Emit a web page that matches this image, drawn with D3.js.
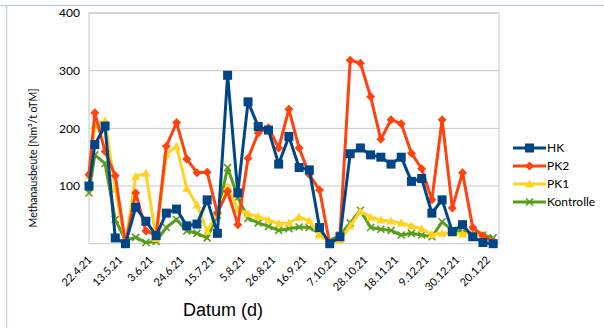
<!DOCTYPE html>
<html>
<head>
<meta charset="utf-8">
<script src="https://cdn.jsdelivr.net/npm/d3@7"></script>
<style>
  html, body { margin: 0; padding: 0; background: #fff; }
  svg { display: block; }
</style>
</head>
<body>
<svg id="chart" width="604" height="328"></svg>
<script>
// Sampling dates (first reading, then weekly)
const dates = [
  "2021-04-22", "2021-04-26", "2021-05-03", "2021-05-10", "2021-05-17", "2021-05-24",
  "2021-05-31", "2021-06-07", "2021-06-14", "2021-06-21", "2021-06-28", "2021-07-05",
  "2021-07-12", "2021-07-19", "2021-07-26", "2021-08-02", "2021-08-09", "2021-08-16",
  "2021-08-23", "2021-08-30", "2021-09-06", "2021-09-13", "2021-09-20", "2021-09-27",
  "2021-10-04", "2021-10-11", "2021-10-18", "2021-10-25", "2021-11-01", "2021-11-08",
  "2021-11-15", "2021-11-22", "2021-11-29", "2021-12-06", "2021-12-13", "2021-12-20",
  "2021-12-27", "2022-01-03", "2022-01-10", "2022-01-17", "2022-01-24"
];

// Methane yield per variant [Nm³/t oTM]
const hk = [100, 172, 204, 10, 0, 63, 39, 14, 53, 60, 31, 34, 76, 18, 292, 88, 246, 203, 197, 138,
  186, 132, 128, 28, 0, 12, 156, 166, 154, 150, 138, 150, 108, 113, 53, 76, 21, 33, 12, 2, 0];
const pk2 = [120, 227, 160, 118, 0, 88, 22, 15, 169, 210, 147, 123, 124, 53, 91, 33, 148, 192, 201, 166,
  233, 166, 120, 93, 0, 15, 318, 313, 255, 181, 215, 208, 157, 130, 76, 215, 62, 123, 28, 14, 4];
const pk1 = [118, 205, 213, 95, 0, 117, 122, 9, 155, 169, 96, 67, 21, 55, 99, 60, 52, 47, 41, 35,
  36, 46, 40, 15, 3, 6, 31, 56, 46, 41, 39, 36, 31, 26, 16, 18, 18, 17, 19, 12, 5];
const kontrolle = [88, 154, 139, 42, 6, 11, 2, 4, 28, 42, 22, 18, 10, 50, 132, 80, 44, 36, 30, 23,
  26, 29, 28, 18, 5, 15, 36, 58, 28, 25, 23, 15, 18, 15, 12, 38, 23, 21, 16, 15, 10];

// Axis ticks
const tickDates = ["2021-04-22", "2021-05-13", "2021-06-03", "2021-06-24", "2021-07-15", "2021-08-05",
  "2021-08-26", "2021-09-16", "2021-10-07", "2021-10-28", "2021-11-18", "2021-12-09",
  "2021-12-30", "2022-01-20"];
const yTicks = [100, 200, 300, 400];
const xDomain = ["2021-04-22", "2022-01-28"];

const seriesNames = ["HK", "PK2", "PK1", "Kontrolle"];
const seriesValues = [hk, pk2, pk1, kontrolle];
const seriesColors = ["#004586", "#ff420e", "#ffd320", "#579d1c"];
const markerPaths = [
  "M-4.5,-4.5H4.5V4.5H-4.5Z",
  "M0,-4.5L4.5,0L0,4.5L-4.5,0Z",
  "M0,-4.5L4.5,3.5L-4.5,3.5Z",
  "M-3.5,-3.5L3.5,3.5M-3.5,3.5L3.5,-3.5"
];

const parse = d3.timeParse("%Y-%m-%d");
const fmt = d3.timeFormat("%-d.%-m.%y");

const svg = d3.select("#chart");
const plot = { left: 89, right: 499, top: 13, bottom: 243.7 };

const x = d3.scaleTime().domain(xDomain.map(parse)).range([plot.left, plot.right]);
const y = d3.scaleLinear().domain([0, 400]).range([plot.bottom, plot.top]);

// frame lines around the figure
svg.append("path")
  .attr("d", "M0,5.5H604M6.5,5.5V328")
  .attr("fill", "none")
  .attr("stroke", "#c3cde3")
  .attr("stroke-width", 1.5);

// gridlines
svg.append("g")
  .selectAll("line")
  .data(yTicks)
  .join("line")
  .attr("x1", plot.left).attr("x2", plot.right)
  .attr("y1", d => y(d)).attr("y2", d => y(d))
  .attr("stroke", "#c8c8c8").attr("stroke-width", 1);

// plot frame
svg.append("rect")
  .attr("x", plot.left).attr("y", plot.top)
  .attr("width", plot.right - plot.left).attr("height", plot.bottom - plot.top)
  .attr("fill", "none").attr("stroke", "#c8c8c8").attr("stroke-width", 1);

// y axis
const yAxis = svg.append("g")
  .attr("transform", `translate(${plot.left},0)`)
  .call(d3.axisLeft(y).tickValues(yTicks).tickSize(0).tickPadding(9));
yAxis.select(".domain").remove();
yAxis.selectAll("text")
  .attr("font-family", "Lato, sans-serif")
  .attr("font-size", 12)
  .attr("fill", "#000");

// x axis
const xAxis = svg.append("g")
  .attr("transform", `translate(0,${plot.bottom})`)
  .call(d3.axisBottom(x).tickValues(tickDates.map(parse)).tickFormat(fmt).tickSize(0));
xAxis.select(".domain").remove();
xAxis.selectAll("text")
  .attr("font-family", "Lato, sans-serif")
  .attr("font-size", 11)
  .attr("fill", "#000")
  .attr("text-anchor", "end")
  .attr("dy", 0)
  .attr("y", 0)
  .attr("transform", "translate(3,17) rotate(-45)");

// axis titles
svg.append("text")
  .attr("transform", "translate(37,158) rotate(-90)")
  .attr("text-anchor", "middle")
  .attr("font-family", "Lato, sans-serif")
  .attr("font-size", 10.5)
  .attr("fill", "#000")
  .text("Methanausbeute [Nm³/t oTM]");

svg.append("text")
  .attr("x", 223).attr("y", 316)
  .attr("text-anchor", "middle")
  .attr("font-family", "Liberation Sans, Arial, sans-serif")
  .attr("font-size", 18)
  .attr("fill", "#000")
  .text("Datum (d)");

// series (drawn so that HK ends on top)
const line = d3.line().x(d => x(d.date)).y(d => y(d.value));
const order = [3, 2, 1, 0];
order.forEach(i => {
  const pts = dates.map((d, k) => ({ date: parse(d), value: seriesValues[i][k] }));
  const g = svg.append("g");
  g.append("path")
    .datum(pts)
    .attr("d", line)
    .attr("fill", "none")
    .attr("stroke", seriesColors[i])
    .attr("stroke-width", 3)
    .attr("stroke-linejoin", "round");
  g.selectAll("path.m")
    .data(pts)
    .join("path")
    .attr("class", "m")
    .attr("transform", d => `translate(${x(d.date)},${y(d.value)})`)
    .attr("d", markerPaths[i])
    .attr("fill", i === 3 ? "none" : seriesColors[i])
    .attr("stroke", seriesColors[i])
    .attr("stroke-width", i === 3 ? 1.6 : 0);
});

// legend
const legend = svg.append("g");
seriesNames.forEach((name, i) => {
  const ly = 148 + i * 18;
  const row = legend.append("g").attr("transform", `translate(513,${ly})`);
  row.append("line")
    .attr("x1", 0).attr("x2", 33).attr("y1", 0).attr("y2", 0)
    .attr("stroke", seriesColors[i]).attr("stroke-width", 3);
  row.append("path")
    .attr("transform", "translate(16.5,0)")
    .attr("d", markerPaths[i])
    .attr("fill", i === 3 ? "none" : seriesColors[i])
    .attr("stroke", seriesColors[i])
    .attr("stroke-width", i === 3 ? 1.6 : 0);
  row.append("text")
    .attr("x", 34).attr("y", 0).attr("dy", "0.36em")
    .attr("font-family", "Lato, sans-serif")
    .attr("font-size", 12)
    .attr("fill", "#000")
    .text(name);
});
</script>
</body>
</html>
